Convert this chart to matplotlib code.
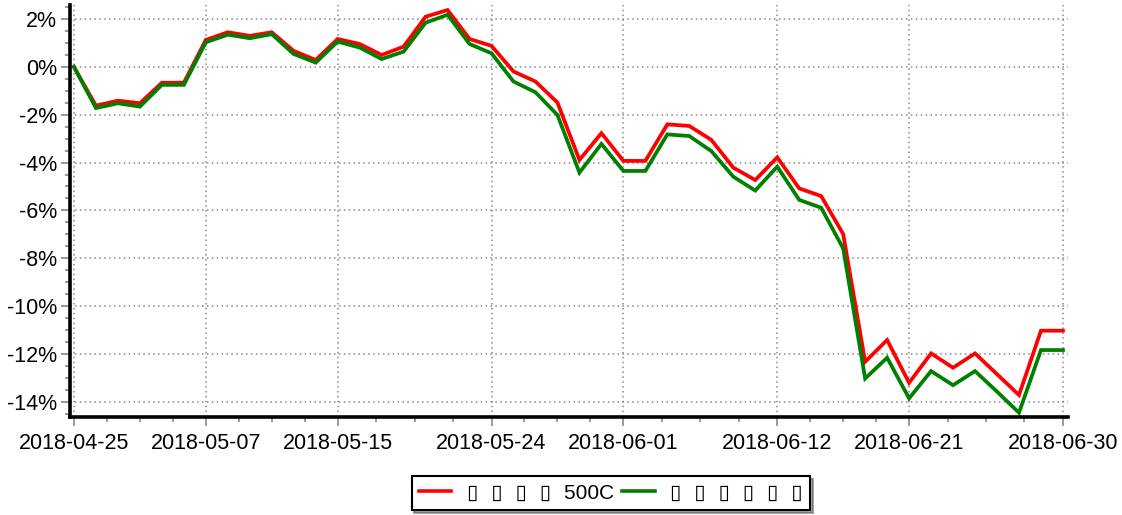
import matplotlib
matplotlib.use("Agg")
import matplotlib.pyplot as plt
from matplotlib.ticker import FixedLocator, FuncFormatter, MultipleLocator

dates = ["2018-04-25", "2018-04-26", "2018-04-27", "2018-05-02", "2018-05-03", "2018-05-04",
         "2018-05-07", "2018-05-08", "2018-05-09", "2018-05-10", "2018-05-11", "2018-05-14",
         "2018-05-15", "2018-05-16", "2018-05-17", "2018-05-18", "2018-05-21", "2018-05-22",
         "2018-05-23", "2018-05-24", "2018-05-25", "2018-05-28", "2018-05-29", "2018-05-30",
         "2018-05-31", "2018-06-01", "2018-06-04", "2018-06-05", "2018-06-06", "2018-06-07",
         "2018-06-08", "2018-06-11", "2018-06-12", "2018-06-13", "2018-06-14", "2018-06-15",
         "2018-06-19", "2018-06-20", "2018-06-21", "2018-06-22", "2018-06-25", "2018-06-26",
         "2018-06-27", "2018-06-28", "2018-06-29", "2018-06-30"]

red_vals = [0.00, -1.62, -1.41, -1.52, -0.66, -0.66, 1.13, 1.45, 1.30, 1.45,
            0.67, 0.29, 1.17, 0.96, 0.50, 0.85, 2.10, 2.38, 1.17, 0.88,
            -0.19, -0.61, -1.49, -3.89, -2.77, -3.93, -3.93, -2.40, -2.47, -3.05,
            -4.21, -4.73, -3.78, -5.08, -5.40, -6.99, -12.33, -11.42, -13.21, -11.98,
            -12.58, -11.98, -12.85, -13.72, -11.03, -11.03]

green_vals = [0.00, -1.72, -1.52, -1.66, -0.75, -0.75, 1.03, 1.35, 1.20, 1.37,
              0.54, 0.18, 1.06, 0.81, 0.33, 0.64, 1.85, 2.18, 0.96, 0.57,
              -0.61, -1.06, -2.01, -4.42, -3.22, -4.35, -4.35, -2.82, -2.89, -3.52,
              -4.59, -5.17, -4.17, -5.56, -5.89, -7.59, -13.03, -12.16, -13.86, -12.72,
              -13.31, -12.72, -13.58, -14.46, -11.84, -11.84]

tick_labels = ["2018-04-25", "2018-05-07", "2018-05-15", "2018-05-24",
               "2018-06-01", "2018-06-12", "2018-06-21", "2018-06-30"]

GAP = " \u2004"
series_names = [GAP.join(["▯"] * 4) + GAP + "500C", GAP.join(["▯"] * 6)]

W, H = 1122, 515
fig = plt.figure(figsize=(W / 100, H / 100), dpi=100)
plt.rcParams['font.family'] = ['Liberation Sans', 'DejaVu Sans']

ax = fig.add_axes([70 / W, 1 - 417 / H, (1068 - 70) / W, (417 - 5) / H])

x = list(range(len(dates)))
ax.plot(x, red_vals, color="#ff0000", lw=2.7, label=series_names[0], solid_joinstyle="miter")
ax.plot(x, green_vals, color="#008000", lw=2.7, label=series_names[1], solid_joinstyle="miter")

ax.set_xlim(-0.18, 45.23)
ax.set_ylim(-14.64, 2.59)

major_pos = [dates.index(t) for t in tick_labels]
minor_pos = []
for a, b in zip(major_pos[:-1], major_pos[1:]):
    for k in (1, 2, 3):
        minor_pos.append(a + (b - a) * k / 4)
ax.xaxis.set_major_locator(FixedLocator(major_pos))
ax.xaxis.set_minor_locator(FixedLocator(minor_pos))
ax.set_xticklabels(tick_labels)

ax.yaxis.set_major_locator(MultipleLocator(2))
ax.yaxis.set_minor_locator(MultipleLocator(0.5))
ax.yaxis.set_major_formatter(FuncFormatter(lambda v, p: f"{v:.0f}%"))

for s in ("top", "right"):
    ax.spines[s].set_visible(False)
for s in ("left", "bottom"):
    ax.spines[s].set_linewidth(2.6)
    ax.spines[s].set_color("black")

ax.tick_params(axis="both", which="major", length=6.5, width=1.2, color="#888888",
               labelsize=15.5, labelcolor="black")
ax.tick_params(axis="both", which="minor", length=3.5, width=1.2, color="#888888")
ax.tick_params(axis="x", which="major", pad=5)
ax.tick_params(axis="y", which="major", pad=3)

ax.grid(True, which="major", color="#888888", linestyle=(0, (1, 2.2)), linewidth=1.1)
ax.set_axisbelow(True)

leg = fig.legend(loc="center", bbox_to_anchor=(611 / W, 1 - 493 / H), ncol=2,
                 fontsize=15, frameon=True, shadow=True, fancybox=False,
                 handlelength=1.55, handletextpad=0.75, columnspacing=0.4,
                 borderpad=0.35, borderaxespad=0)
leg.get_frame().set_edgecolor("black")
leg.get_frame().set_linewidth(1.5)
for line in leg.get_lines():
    line.set_linewidth(2.6)

fig.savefig("out.png", dpi=100)
